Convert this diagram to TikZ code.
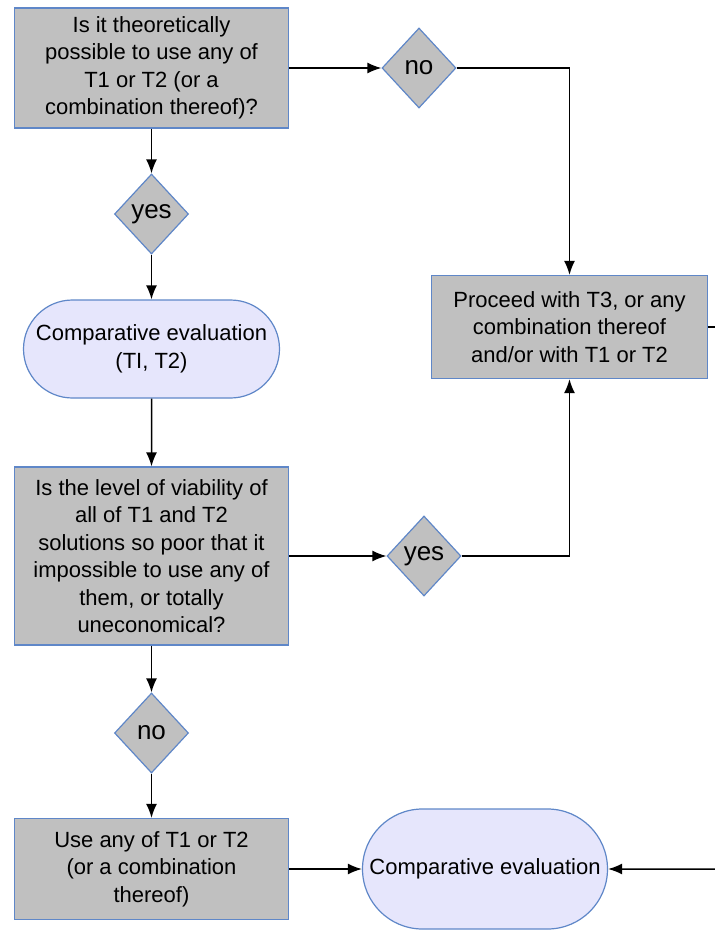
\documentclass[tikz,border=0pt]{standalone}
\usepackage{fontspec}
\setmainfont{Liberation Sans}
\usetikzlibrary{shapes.geometric,shapes.misc,arrows.meta}
\definecolor{boxgray}{RGB}{192,192,192}
\definecolor{boxblue}{RGB}{95,135,200}
\definecolor{lavender}{RGB}{230,230,252}

\begin{document}
\begin{tikzpicture}[x=1pt, y=-1pt, every node/.style={font=\fontsize{22}{27.5}\selectfont, align=center},
	question/.style={draw=boxblue, fill=boxgray, line width=1.2pt, minimum width=274pt, inner sep=2pt},
	choice/.style={diamond, draw=boxblue, fill=boxgray, line width=1.2pt, minimum width=74pt, minimum height=80pt, inner sep=0pt, font=\fontsize{26}{30}\selectfont},
	evaluation/.style={rounded rectangle, draw=boxblue, fill=lavender, line width=1.2pt, inner sep=0pt},
	flow/.style={line width=1.5pt, -{Latex[length=14pt,width=11pt]}}]
	\useasboundingbox (0,0) rectangle (715,930);
	% left column
	\node[question, minimum height=120pt] (possible) at (151.5,68) {Is it theoretically\\possible to use any of\\T1 or T2 (or a\\combination thereof)?};
	\node[choice] (yesA) at (151.5,214) {yes};
	\node[evaluation, minimum width=256pt, minimum height=98pt] (compare) at (151.5,349) {Comparative evaluation\\(TI, T2)};
	\node[question, minimum height=178pt] (viable) at (151.5,556) {Is the level of viability of\\all of T1 and T2\\solutions so poor that it\\impossible to use any of\\them, or totally\\uneconomical?};
	\node[choice] (noB) at (151.5,733) {no};
	\node[question, minimum height=101pt] (useany) at (151.5,869) {Use any of T1 or T2\\(or a combination\\thereof)};
	% right column
	\node[choice] (noA) at (419,68) {no};
	\node[question, minimum width=276pt, minimum height=103pt] (proceed) at (569.5,327) {Proceed with T3, or any\\combination thereof\\and/or with T1 or T2};
	\node[choice] (yesB) at (424,556) {yes};
	\node[evaluation, minimum width=245pt, minimum height=120pt] (final) at (485,869) {Comparative evaluation};
	\coordinate (outR) at (715,327);
	\coordinate (inR) at (715,869);
	% connectors
	\draw[flow] (possible) -- (noA);
	\draw[flow] (noA.east) -| (proceed.north);
	\draw[flow] (possible) -- (yesA);
	\draw[flow] (yesA) -- (compare);
	\draw[flow] (compare) -- (viable);
	\draw[flow] (viable) -- (yesB);
	\draw[flow] (yesB.east) -| (proceed.south);
	\draw[flow] (viable) -- (noB);
	\draw[flow] (noB) -- (useany);
	\draw[flow] (useany) -- (final);
	\draw[line width=1.5pt] (proceed.east) -- (outR);
	\draw[flow] (inR) -- (final);
\end{tikzpicture}
\end{document}
